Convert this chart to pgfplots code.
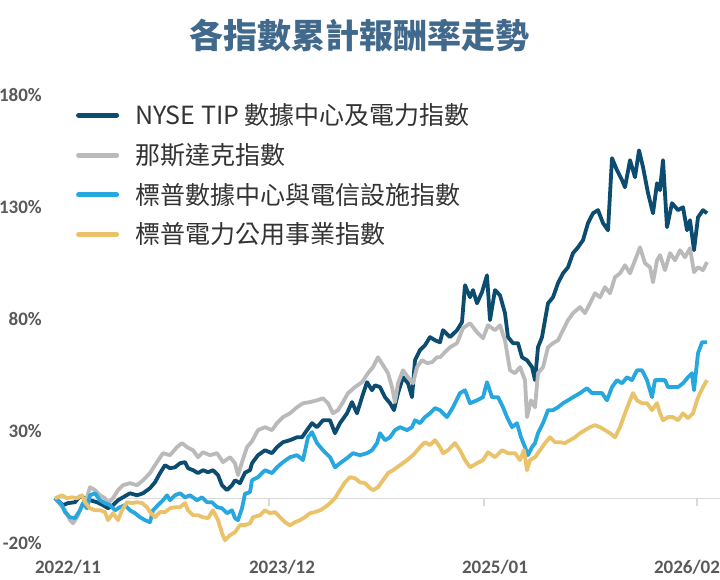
\documentclass[border=0pt]{standalone}
\usepackage{fontspec}
\setmainfont{Noto Sans CJK TC}
\newfontfamily\carlito{Carlito}
\usepackage{pgfplots}
\pgfplotsset{compat=1.18}
\definecolor{cNavy}{HTML}{0B4C70}
\definecolor{cGray}{HTML}{BABABA}
\definecolor{cBlue}{HTML}{27A7DF}
\definecolor{cGold}{HTML}{E9C26A}
\definecolor{cTitle}{HTML}{41698C}
\definecolor{cTick}{HTML}{595959}
\definecolor{cLine}{HTML}{D9D9D9}
\definecolor{cText}{HTML}{333333}
\begin{document}
\begin{tikzpicture}[x=1pt,y=1pt]
\useasboundingbox[fill=white] (0,0) rectangle (720,580);
\node[font=\fontsize{34}{40}\selectfont\bfseries, text=cTitle] at (359,544.5) {各指數累計報酬率走勢};
\begin{axis}[
  at={(55pt,37pt)}, anchor=south west,
  scale only axis, width=665pt, height=448pt,
  xmin=55, xmax=720, ymin=-20, ymax=180,
  axis line style={draw=none},
  clip=false,
  xtick={68,282,495,687},
  xticklabels={2022/11,2023/12,2025/01,2026/02},
  ytick={-20,30,80,130,180},
  yticklabels={-20\%,30\%,80\%,130\%,180\%},
  major tick length=0pt,
  tick label style={font=\carlito\bfseries\fontsize{19}{22}\selectfont, text=cTick, inner sep=0pt},
  yticklabel style={anchor=east, xshift=-13pt},
  xticklabel style={anchor=center, yshift=-24pt},
  extra y ticks={0}, extra y tick labels={},
  extra y tick style={grid=major, major grid style={cLine, line width=1.3pt}},
  every axis plot/.append style={line width=3.8pt, line join=round, no markers},
  legend style={at={(axis cs:74,176.6)}, anchor=north west, draw=none, fill=none, inner sep=0pt,
    font=\fontsize{25}{30}\selectfont, text=cText,
    row sep=14.7pt, column sep=14pt,
    nodes={inner sep=0pt, text height=22pt, text depth=3pt}},
  legend cell align=left,
  legend image code/.code={\path (0pt,8pt) (43pt,8pt); \draw[#1, line width=5pt, line cap=round] (2.5pt,0pt) -- (40.5pt,0pt);},
]
\draw[cLine, line width=1.3pt] (axis cs:269,0) -- ++(0pt,-8pt);
\draw[cLine, line width=1.3pt] (axis cs:484,0) -- ++(0pt,-8pt);
\draw[cLine, line width=1.3pt] (axis cs:697,0) -- ++(0pt,-8pt);

\addplot[cNavy] coordinates {(55,0)(63,-3.1)(68,-2.2)(75,-1.8)(80,0.9)(85,0)(90,-0.9)(97,-1.8)(103,-3.1)(108,-4.5)(113,-3.1)(118,-0.9)(123,0.4)(130,2.2)(137,1.3)(143,2.2)(150,4.5)(155,7.1)(160,11.2)(165,14.7)(170,13.4)(175,13.8)(180,15.6)(185,16.1)(188,13.4)(193,12.5)(198,11.2)(203,12.5)(208,11.6)(213,12.5)(218,10.3)(222,5.8)(227,3.6)(232,5.8)(235,8.0)(240,6.7)(245,11.4)(250,12.5)(252,15.6)(258,19.2)(265,21.4)(272,20.1)(277,22.8)(283,25.0)(290,25.9)(297,27.2)(302,27.2)(307,30.4)(312,33.5)(317,31.7)(323,34.8)(330,34.8)(335,29.0)(340,33.5)(347,37.9)(352,42.9)(357,37.9)(362,45.1)(367,51.8)(372,48.2)(375,50.4)(380,49.6)(385,45.1)(390,42.4)(394,39.3)(398,46.9)(403,54.0)(408,51.3)(412,45.1)(415,61.6)(420,66.1)(425,68.3)(430,71.9)(435,70.5)(440,69.6)(443,75.0)(450,71.9)(457,75.0)(462,78.6)(465,95.1)(470,89.7)(473,92.9)(477,87.0)(482,92.0)(487,99.5)(490,79.5)(495,92.9)(500,90.6)(505,82.6)(508,71.9)(513,69.2)(518,69.2)(522,62.9)(527,61.6)(532,58.5)(535,52.7)(538,67.4)(542,71.9)(545,79.5)(548,87.0)(553,89.7)(558,96.0)(563,100.4)(568,103.1)(573,109.4)(578,112.0)(583,115.2)(588,122.8)(593,127.2)(598,128.6)(603,122.8)(608,119.6)(612,151.8)(617,146.4)(622,142.0)(625,138.8)(630,150.9)(635,143.3)(639,155.3)(643,147.8)(648,136.2)(653,127.2)(657,140.6)(660,137.5)(663,150.9)(667,121.0)(672,131.7)(678,128.6)(683,129.9)(687,119.6)(690,124.1)(694,110.7)(698,125.4)(703,128.6)(707,127.2)};
\addlegendentry{NYSE TIP 數據中心及電力指數}

\addplot[cGray] coordinates {(55,0)(65,-5.4)(70,-9.8)(73,-11.2)(77,-8.5)(82,-3.1)(87,0.4)(90,4.9)(95,3.6)(100,1.3)(105,0)(108,-2.2)(113,0)(118,3.6)(123,5.8)(130,6.7)(137,5.8)(143,8.0)(150,11.2)(157,16.1)(163,20.1)(170,19.2)(177,22.8)(182,24.6)(187,22.8)(193,21.4)(198,18.3)(203,20.5)(210,19.2)(217,20.1)(223,16.1)(230,18.3)(235,15.6)(238,10.3)(242,16.1)(247,22.8)(252,25.4)(258,30.4)(265,31.7)(272,30.4)(277,33.5)(283,36.2)(290,37.9)(297,40.6)(303,42.4)(310,42.9)(317,43.7)(323,44.6)(328,42.4)(333,37.9)(338,39.3)(343,42.9)(348,46.9)(355,49.6)(362,51.8)(368,55.8)(373,58.5)(378,62.9)(383,59.4)(388,55.8)(392,49.6)(395,42.9)(398,51.3)(403,57.1)(408,54.0)(413,51.3)(417,58.5)(422,61.6)(427,60.3)(432,60.7)(437,62.9)(440,62.9)(445,65.2)(450,67.4)(457,69.2)(463,75.9)(470,78.1)(477,74.1)(483,71.4)(488,77.2)(495,75.0)(500,77.2)(505,70.5)(510,57.1)(515,55.8)(520,58.5)(525,52.7)(527,36.2)(531,43.7)(535,40.6)(538,55.8)(543,58.5)(548,67.4)(553,69.2)(558,70.5)(563,75.0)(568,79.5)(573,82.6)(580,85.3)(585,82.6)(590,87.0)(595,91.5)(600,89.7)(605,94.2)(610,91.5)(615,98.7)(620,100.4)(625,104.0)(630,100.4)(635,106.2)(640,112.0)(645,104.9)(650,103.1)(653,96.4)(657,106.2)(660,108.5)(665,101.8)(670,109.4)(675,106.2)(680,110.7)(685,107.6)(690,111.6)(694,100.9)(698,103.1)(703,101.8)(707,105.4)};
\addlegendentry{那斯達克指數}

\addplot[cBlue] coordinates {(55,0)(62,-3.1)(65,-6.2)(70,-8.5)(75,-8.9)(80,-5.4)(83,-2.2)(87,-4.5)(90,1.3)(95,2.2)(100,-0.9)(105,-2.2)(110,-3.1)(115,-5.4)(120,-4.0)(125,-3.1)(130,-5.4)(135,-6.7)(140,-8.5)(145,-9.8)(150,-10.7)(153,-5.4)(158,-3.1)(163,-0.9)(167,1.3)(170,-0.9)(175,1.3)(180,2.2)(185,0.4)(190,1.3)(197,-0.9)(202,0.4)(207,-1.8)(212,-1.8)(217,-4.0)(222,-4.5)(227,-6.7)(232,-5.4)(235,-8.9)(238,-9.8)(242,-4.5)(245,2.0)(250,2.7)(252,8.0)(258,9.4)(265,12.5)(272,11.2)(277,13.8)(283,16.1)(290,18.3)(297,19.2)(303,17.0)(308,27.2)(312,29.5)(317,24.6)(323,21.4)(330,18.3)(335,13.8)(340,15.6)(347,17.9)(353,20.1)(360,19.2)(367,20.1)(372,21.4)(377,24.6)(380,29.0)(385,25.9)(390,27.2)(395,30.4)(400,31.7)(407,30.4)(412,31.7)(415,34.8)(420,33.5)(425,36.2)(430,37.9)(435,40.2)(440,39.3)(447,36.2)(453,40.6)(460,46.9)(465,48.2)(470,42.4)(477,43.7)(483,45.1)(487,51.8)(492,45.1)(498,45.1)(503,40.6)(507,36.2)(512,31.7)(517,33.5)(521,27.2)(525,22.8)(528,19.2)(532,22.8)(535,24.6)(538,29.0)(543,33.5)(548,39.3)(553,39.3)(558,40.6)(563,42.4)(568,43.7)(573,45.1)(580,46.9)(587,49.1)(592,46.9)(597,46.9)(602,46.9)(607,43.7)(612,49.6)(617,52.7)(622,51.3)(627,54.0)(632,52.7)(637,57.1)(642,57.1)(647,52.7)(652,45.1)(655,52.7)(660,52.7)(665,52.7)(668,49.6)(673,49.6)(678,49.6)(683,51.3)(688,54.0)(692,55.8)(694,48.2)(698,64.7)(702,69.6)(707,69.6)};
\addlegendentry{標普數據中心與電信設施指數}

\addplot[cGold] coordinates {(55,0)(62,1.3)(67,0)(72,0.4)(77,0)(82,1.3)(85,-1.8)(90,-4.5)(95,-5.4)(100,-5.4)(105,-6.2)(108,-9.8)(113,-6.7)(118,-9.8)(122,-5.4)(127,-1.8)(132,-2.2)(137,-1.8)(142,-2.2)(147,-4.0)(150,-6.2)(155,-8.5)(160,-6.2)(165,-6.2)(170,-4.5)(175,-4.0)(180,-4.0)(185,-2.2)(188,-5.4)(193,-7.6)(198,-7.6)(203,-8.5)(208,-8.9)(213,-5.4)(218,-9.8)(222,-15.6)(225,-18.8)(230,-16.5)(235,-15.2)(240,-12.0)(245,-12.0)(250,-11.2)(253,-8.5)(260,-7.6)(265,-5.4)(270,-6.7)(275,-6.2)(280,-8.5)(285,-10.7)(290,-12.1)(295,-10.7)(300,-9.8)(305,-8.5)(310,-6.7)(315,-6.2)(320,-5.4)(325,-4.0)(330,-2.2)(335,0)(340,3.6)(345,7.1)(350,9.4)(355,8.9)(360,7.1)(365,6.7)(370,4.5)(373,3.6)(378,4.9)(383,8.0)(388,11.2)(393,12.5)(400,14.7)(407,17.0)(413,19.2)(420,22.8)(425,25.0)(430,23.7)(435,25.9)(440,22.8)(443,20.1)(448,21.4)(455,24.6)(460,21.4)(465,17.0)(470,13.8)(477,15.6)(483,17.0)(488,20.5)(495,18.3)(502,21.4)(508,20.1)(515,20.1)(520,17.0)(524,21.4)(527,12.5)(530,17.0)(535,18.3)(540,21.4)(545,24.6)(550,27.2)(555,25.0)(560,25.0)(565,24.6)(570,25.9)(575,27.2)(580,29.0)(585,30.4)(590,31.7)(595,32.6)(600,31.7)(605,30.4)(610,29.0)(615,27.2)(620,31.7)(625,37.9)(630,43.7)(633,46.9)(637,43.7)(642,42.4)(647,42.4)(652,39.3)(657,42.4)(660,37.9)(663,34.8)(668,36.2)(673,36.2)(678,34.8)(683,37.9)(688,35.7)(693,37.9)(697,43.7)(700,46.9)(703,49.6)(707,52.7)};
\addlegendentry{標普電力公用事業指數}
\end{axis}
\end{tikzpicture}
\end{document}
